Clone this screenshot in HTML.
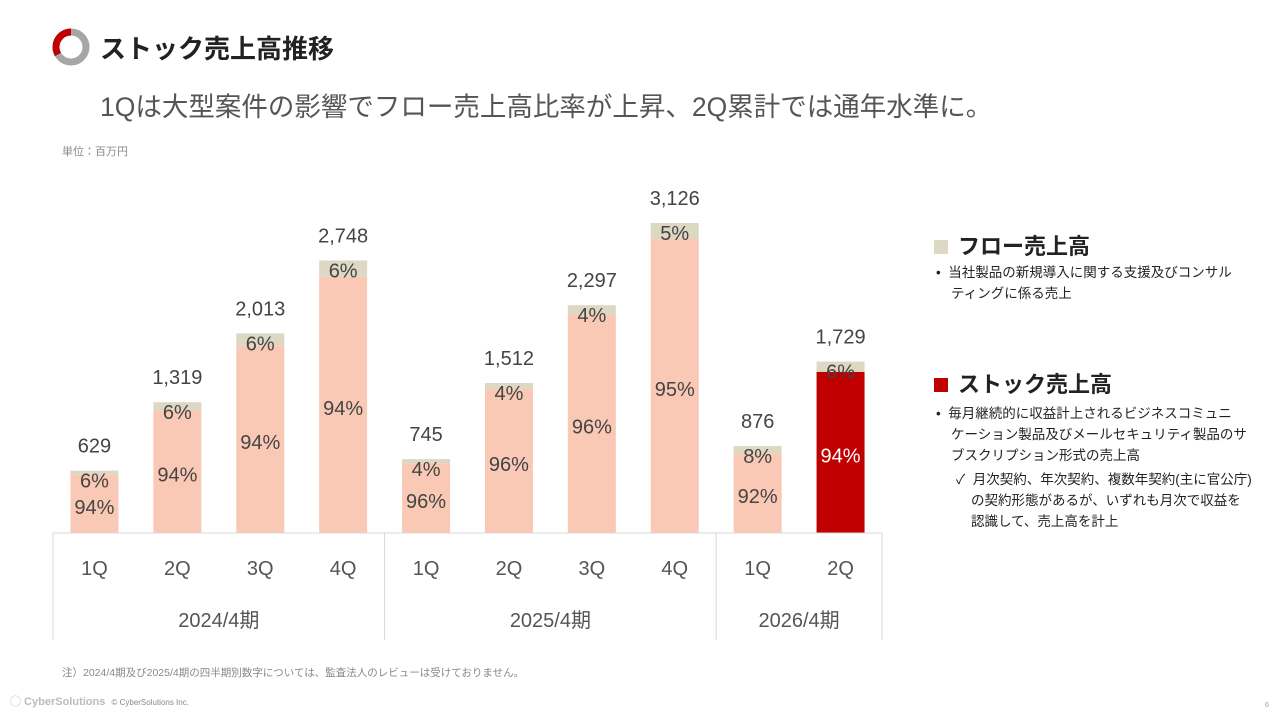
<!DOCTYPE html>
<html><head><meta charset="utf-8"><style>
body{margin:0;width:1280px;height:720px;background:#fff;position:relative;overflow:hidden;font-family:"Liberation Sans","Noto Sans CJK JP",sans-serif;color:#333}
.a{position:absolute;white-space:nowrap}
</style></head><body>
<svg class="a" style="left:51px;top:27px" width="40" height="40"><circle cx="20" cy="20" r="15" fill="none" stroke="#a6a6a6" stroke-width="7"/><path d="M20 5 A15 15 0 0 0 7 27.5" fill="none" stroke="#c00000" stroke-width="7"/></svg>
<div class="a" style="left:100px;top:29px;font-size:26px;font-weight:bold;color:#222">ストック売上高推移</div>
<div class="a" style="left:100px;top:85px;font-size:26.5px;color:#555">1Qは大型案件の影響でフロー売上高比率が上昇、2Q累計では通年水準に。</div>
<div class="a" style="left:62px;top:143px;font-size:11px;color:#888">単位：百万円</div>
<svg class="a" style="left:0;top:0" width="900" height="650" id="chart"></svg>
<div class="a" style="left:934px;top:229px;font-size:22px;font-weight:bold;color:#222"><span style="display:inline-block;width:14px;height:14px;background:#dcd8c4;margin-right:10px"></span>フロー売上高</div>
<div class="a" style="left:936px;top:262px;font-size:13.5px;line-height:21px;color:#222">•&nbsp;&nbsp;当社製品の新規導入に関する支援及びコンサル<br>&nbsp;&nbsp;&nbsp;&nbsp;ティングに係る売上</div>
<div class="a" style="left:934px;top:367px;font-size:22px;font-weight:bold;color:#222"><span style="display:inline-block;width:14px;height:14px;background:#c00000;margin-right:10px"></span>ストック売上高</div>
<div class="a" style="left:936px;top:403px;font-size:13.5px;line-height:21px;color:#222">•&nbsp;&nbsp;毎月継続的に収益計上されるビジネスコミュニ<br>&nbsp;&nbsp;&nbsp;&nbsp;ケーション製品及びメールセキュリティ製品のサ<br>&nbsp;&nbsp;&nbsp;&nbsp;ブスクリプション形式の売上高</div>
<div class="a" style="left:956px;top:469px;font-size:13.5px;line-height:21px;color:#222">✓&nbsp;&nbsp;月次契約、年次契約、複数年契約(主に官公庁)<br>&nbsp;&nbsp;&nbsp;&nbsp;の契約形態があるが、いずれも月次で収益を<br>&nbsp;&nbsp;&nbsp;&nbsp;認識して、売上高を計上</div>
<div class="a" style="left:62px;top:665px;font-size:10.5px;color:#888">注）2024/4期及び2025/4期の四半期別数字については、監査法人のレビューは受けておりません。</div>
<div class="a" style="left:10px;top:693px;font-size:11px;font-weight:bold;color:#bbb">◯ CyberSolutions&nbsp;&nbsp;<span style="font-weight:normal;font-size:8px;color:#888">© CyberSolutions Inc.</span></div>
<div class="a" style="left:1265px;top:702px;font-size:7px;color:#999">6</div>
<script>
const quarters=["1Q","2Q","3Q","4Q","1Q","2Q","3Q","4Q","1Q","2Q"];
const totals=[629,1319,2013,2748,745,1512,2297,3126,876,1729];
const flowPct=[6,6,6,6,4,4,4,5,8,6];
const stockPct=[94,94,94,94,96,96,96,95,92,94];
const groups=["2024/4期","2025/4期","2026/4期"];
const groupSizes=[4,4,2];
const svg=document.getElementById('chart');const NS='http://www.w3.org/2000/svg';
const x0=53,colW=82.9,base=533,k=310/3126,bw=48;
const X=i=>x0+colW*(i+0.5);const Y=v=>base-v*k;
function el(t,a,txt){const e=document.createElementNS(NS,t);for(const n in a)e.setAttribute(n,a[n]);if(txt!==undefined)e.textContent=txt;svg.appendChild(e);return e;}
totals.forEach((t,i)=>{
 const cx=X(i),top=Y(t),fh=Math.max(t*flowPct[i]/100*k,4),hi=i===9;
 const s=el('rect',{x:cx-bw/2,y:top+fh,width:bw,height:base-top-fh,fill:hi?'#c00000':'#f9c9b6'});
 
 
 const f=el('rect',{x:cx-bw/2,y:top,width:bw,height:fh,fill:'#dcd8c4'});
 
 
 const tl=el('text',{x:cx,y:top-18,'text-anchor':'middle','font-size':20,fill:'#444'},t.toLocaleString('en-US'));
 
 
 const fl=el('text',{x:cx,y:top+17,'text-anchor':'middle','font-size':20,fill:'#444'},flowPct[i]+'%');
 
 
 const sl=el('text',{x:cx,y:(top+fh+base)/2+10,'text-anchor':'middle','font-size':20,fill:hi?'#fff':'#444'},stockPct[i]+'%');
 
 
 const q=el('text',{x:cx,y:575,'text-anchor':'middle','font-size':20,fill:'#555'},quarters[i]);
 
 
});
el('line',{x1:x0,x2:x0+colW*10,y1:base,y2:base,stroke:'#d9d9d9','stroke-width':1});
let c=0;
el('line',{x1:x0,x2:x0,y1:base,y2:640,stroke:'#d9d9d9'});
groups.forEach((g,j)=>{
 const cx=x0+colW*(c+groupSizes[j]/2);
 const gl=el('text',{x:cx,y:627,'text-anchor':'middle','font-size':20,fill:'#555'},g);
 
 
 c+=groupSizes[j];
 el('line',{x1:x0+colW*c,x2:x0+colW*c,y1:base,y2:640,stroke:'#d9d9d9'});
});
</script>
</body></html>
